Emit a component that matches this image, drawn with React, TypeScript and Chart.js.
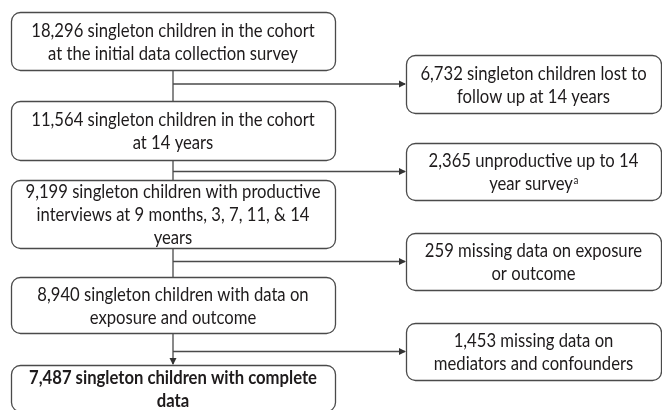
import React, { useEffect, useRef } from "react";
import { Chart, registerables } from "chart.js";

Chart.register(...registerables);

// ---- data ----
const mainCounts = ["18,296", "11,564", "9,199", "8,940", "7,487"];
const mainLabels: string[][] = [
  [mainCounts[0] + " singleton children in the cohort", "at the initial data collection survey"],
  [mainCounts[1] + " singleton children in the cohort", "at 14 years"],
  [mainCounts[2] + " singleton children with productive", "interviews at 9 months, 3, 7, 11, & 14", "years"],
  [mainCounts[3] + " singleton children with data on", "exposure and outcome"],
  [mainCounts[4] + " singleton children with complete", "data"],
];
const excludedCounts = ["6,732", "2,365", "259", "1,453"];
const excludedLabels: string[][] = [
  [excludedCounts[0] + " singleton children lost to", "follow up at 14 years"],
  [excludedCounts[1] + " unproductive up to 14", "year survey^a"],
  [excludedCounts[2] + " missing data on exposure", "or outcome"],
  [excludedCounts[3] + " missing data on", "mediators and confounders"],
];

// ---- layout (in scale units) ----
const mainX = [11, 335];
const mainY: number[][] = [[12, 70], [101, 160], [180, 248], [277, 333], [365, 411]];
const sideX = [406, 661];
const sideY: number[][] = [[55, 113], [143, 200], [233, 290], [323, 380]];
const spineX = 173;
const FONT = "Lato";
const FS = 18.5;
const SX = 0.9;
const LH = 23;

function roundRect(ctx: CanvasRenderingContext2D, x: number, y: number, w: number, h: number, r: number) {
  ctx.beginPath();
  ctx.moveTo(x + r, y);
  ctx.lineTo(x + w - r, y);
  ctx.arcTo(x + w, y, x + w, y + r, r);
  ctx.lineTo(x + w, y + h - r);
  ctx.arcTo(x + w, y + h, x + w - r, y + h, r);
  ctx.lineTo(x + r, y + h);
  ctx.arcTo(x, y + h, x, y + h - r, r);
  ctx.lineTo(x, y + r);
  ctx.arcTo(x, y, x + r, y, r);
  ctx.closePath();
}

function drawText(ctx: CanvasRenderingContext2D, s: string, x: number, y: number) {
  ctx.save();
  ctx.translate(x, y);
  ctx.scale(SX, 1);
  ctx.fillText(s, 0, 0);
  ctx.restore();
}

const flowPlugin = {
  id: "flow",
  afterDraw(chart: any) {
    const ctx: CanvasRenderingContext2D = chart.ctx;
    const xs = chart.scales.x;
    const ys = chart.scales.y;
    const px = (v: number) => xs.getPixelForValue(v);
    const py = (v: number) => ys.getPixelForValue(v);
    ctx.save();
    ctx.strokeStyle = "#4a4a4a";
    ctx.lineWidth = 1.3;

    const drawBox = (x0: number, x1: number, y0: number, y1: number, lines: string[], bold: boolean) => {
      const X0 = px(x0), X1 = px(x1), Y0 = py(y0), Y1 = py(y1);
      roundRect(ctx, Math.round(X0) + 0.5, Math.round(Y0) + 0.5, Math.round(X1 - X0), Math.round(Y1 - Y0), 9);
      ctx.fillStyle = "#ffffff";
      ctx.fill();
      ctx.stroke();
      ctx.fillStyle = "#1e1b1c";
      const mainFont = (bold ? "bold " : "") + FS + "px " + FONT;
      const supFont = "11px " + FONT;
      ctx.textBaseline = "alphabetic";
      ctx.textAlign = "left";
      const cx = (X0 + X1) / 2;
      const top = (Y0 + Y1) / 2 - ((lines.length - 1) * LH) / 2 + 7;
      lines.forEach((ln, i) => {
        const y = top + i * LH;
        if (ln.endsWith("^a")) {
          const base = ln.slice(0, -2);
          ctx.font = mainFont;
          const w1 = ctx.measureText(base).width * SX;
          ctx.font = supFont;
          const w2 = ctx.measureText("a").width * SX;
          const sx = cx - (w1 + w2) / 2;
          ctx.font = mainFont;
          drawText(ctx, base, sx, y);
          ctx.font = supFont;
          drawText(ctx, "a", sx + w1 + 0.5, y - 6);
        } else {
          ctx.font = mainFont;
          const w = ctx.measureText(ln).width * SX;
          drawText(ctx, ln, cx - w / 2, y);
        }
      });
    };

    const line = (x0: number, y0: number, x1: number, y1: number) => {
      ctx.beginPath();
      ctx.moveTo(px(x0), py(y0));
      ctx.lineTo(px(x1), py(y1));
      ctx.stroke();
    };
    const arrowHead = (x: number, y: number, dir: "right" | "down") => {
      const X = px(x), Y = py(y);
      ctx.fillStyle = "#333";
      ctx.beginPath();
      if (dir === "right") {
        ctx.moveTo(X, Y);
        ctx.lineTo(X - 7, Y - 3.5);
        ctx.lineTo(X - 7, Y + 3.5);
      } else {
        ctx.moveTo(X, Y);
        ctx.lineTo(X - 3.5, Y - 7);
        ctx.lineTo(X + 3.5, Y - 7);
      }
      ctx.closePath();
      ctx.fill();
    };

    // connectors
    ctx.strokeStyle = "#4a4a4a";
    for (let i = 0; i < mainY.length - 1; i++) {
      line(spineX, mainY[i][1], spineX, mainY[i + 1][0] - (i === mainY.length - 2 ? 1 : 0));
      const ay = (sideY[i][0] + sideY[i][1]) / 2;
      line(spineX, ay, sideX[0] - 1, ay);
      arrowHead(sideX[0], ay, "right");
    }
    arrowHead(spineX, mainY[mainY.length - 1][0], "down");

    mainLabels.forEach((lines, i) => drawBox(mainX[0], mainX[1], mainY[i][0], mainY[i][1], lines, i === mainLabels.length - 1));
    excludedLabels.forEach((lines, i) => drawBox(sideX[0], sideX[1], sideY[i][0], sideY[i][1], lines, false));
    ctx.restore();
  },
};

export default function App() {
  const ref = useRef<HTMLCanvasElement | null>(null);
  useEffect(() => {
    if (!ref.current) return;
    const chart = new Chart(ref.current, {
      type: "scatter",
      data: {
        datasets: [
          {
            data: mainY.map((r) => ({ x: (mainX[0] + mainX[1]) / 2, y: (r[0] + r[1]) / 2 })),
            pointRadius: 0,
            showLine: false,
          },
        ],
      },
      options: {
        responsive: false,
        animation: false,
        events: [],
        layout: { padding: 0 },
        plugins: { legend: { display: false }, tooltip: { enabled: false } },
        scales: {
          x: { type: "linear", min: 0, max: 662, display: false },
          y: { type: "linear", min: 0, max: 410, reverse: true, display: false },
        },
      },
      plugins: [flowPlugin],
    });
    return () => chart.destroy();
  }, []);
  return (
    <div style={{ position: "fixed", left: 0, top: 0, width: 662, height: 410, background: "#fff" }}>
      <canvas ref={ref} width={662} height={410} style={{ display: "block", width: 662, height: 410 }} />
    </div>
  );
}
